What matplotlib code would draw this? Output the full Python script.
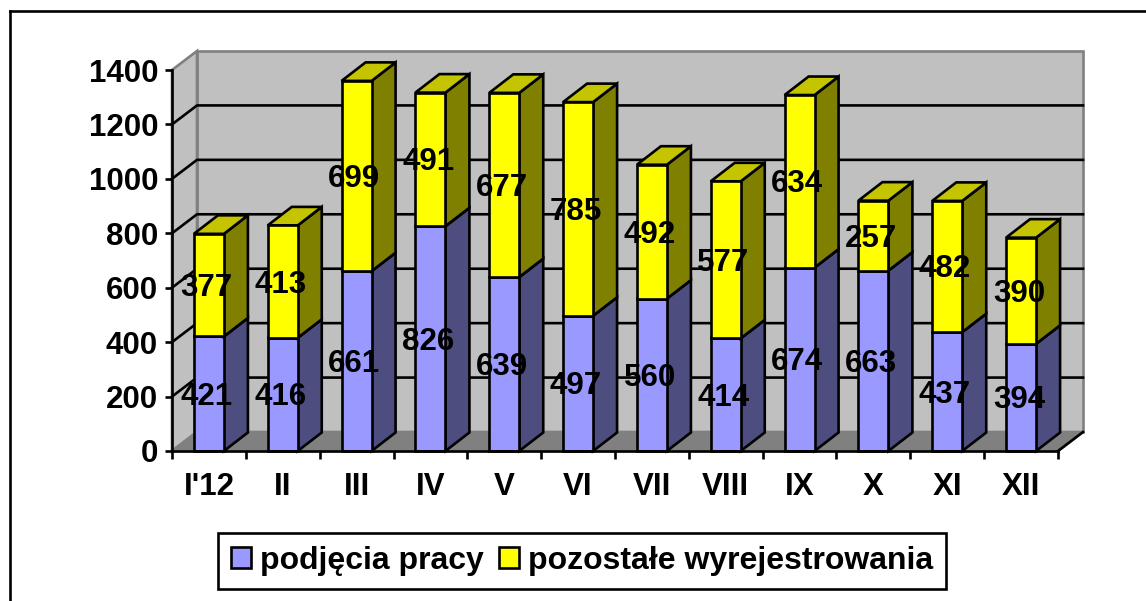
import matplotlib

matplotlib.use("Agg")
import matplotlib.pyplot as plt
from matplotlib.lines import Line2D
from matplotlib.patches import Patch

plt.rcParams["font.family"] = ["Liberation Sans", "DejaVu Sans"]
plt.rcParams["font.weight"] = "bold"

months = ["I'12", "II", "III", "IV", "V", "VI", "VII", "VIII", "IX", "X", "XI", "XII"]
podjecia = [421, 416, 661, 826, 639, 497, 560, 414, 674, 663, 437, 394]
pozostale = [377, 413, 699, 491, 677, 785, 492, 577, 634, 257, 482, 390]
y_ticks = [0, 200, 400, 600, 800, 1000, 1200, 1400]
series_names = ["podjęcia pracy", "pozostałe wyrejestrowania"]

W, H = 1146, 601
LEFT, RIGHT, TOP, BOTTOM = 172, 1058, 70, 451

# 3d look: depth of the walls and of the bars, in data units
x_unit = (RIGHT - LEFT) / 12
y_unit = (BOTTOM - TOP) / 1400
wall_dx, wall_dy = 25 / x_unit, 19 / y_unit
bar_dx, bar_dy = 24 / x_unit, 18.5 / y_unit
bar_w = 30 / x_unit
LW = 1.9

fig = plt.figure(figsize=(W / 100, H / 100), dpi=100)
ax = fig.add_axes(
    [LEFT / W, 1 - BOTTOM / H, (RIGHT - LEFT) / W, (BOTTOM - TOP) / H]
)
ax.set_xlim(-0.5, 11.5)
ax.set_ylim(0, 1400)
ax.patch.set_visible(False)

x0, x1 = -0.5, 11.5
y_top = y_ticks[-1]

# walls and floor
ax.fill(
    [x0 + wall_dx, x1 + wall_dx, x1 + wall_dx, x0 + wall_dx],
    [wall_dy, wall_dy, y_top + wall_dy, y_top + wall_dy],
    facecolor="#C0C0C0", edgecolor="#808080", lw=LW, zorder=1, clip_on=False,
)
ax.fill(
    [x0, x0 + wall_dx, x0 + wall_dx, x0],
    [0, wall_dy, y_top + wall_dy, y_top],
    facecolor="#C0C0C0", edgecolor="#808080", lw=LW, zorder=1, clip_on=False,
)
ax.fill(
    [x0, x1, x1 + wall_dx, x0 + wall_dx],
    [0, 0, wall_dy, wall_dy],
    facecolor="#808080", edgecolor="#808080", lw=LW, zorder=1, clip_on=False,
)
ax.plot([x1, x1 + wall_dx], [0, wall_dy], color="black", lw=LW, zorder=2, clip_on=False)

# grid on both walls
for v in y_ticks[1:-1]:
    ax.plot(
        [x0, x0 + wall_dx, x1 + wall_dx],
        [v, v + wall_dy, v + wall_dy],
        color="black", lw=LW, zorder=2, clip_on=False,
    )


def draw_box(x, bottom, height, front, side, top, z):
    ax.bar(
        x, height, bar_w, bottom=bottom, color=front, edgecolor="black",
        lw=LW, zorder=z + 0.2, clip_on=False,
    )
    xr = x + bar_w / 2
    xl = x - bar_w / 2
    y_hi = bottom + height
    ax.fill(
        [xr, xr + bar_dx, xr + bar_dx, xr],
        [bottom, bottom + bar_dy, y_hi + bar_dy, y_hi],
        facecolor=side, edgecolor="black", lw=LW, zorder=z, clip_on=False,
    )
    ax.fill(
        [xl, xr, xr + bar_dx, xl + bar_dx],
        [y_hi, y_hi, y_hi + bar_dy, y_hi + bar_dy],
        facecolor=top, edgecolor="black", lw=LW, zorder=z, clip_on=False,
    )


for i, (a, b) in enumerate(zip(podjecia, pozostale)):
    draw_box(i, 0, a, "#9999FF", "#4D4D80", "#C4C4FF", 3)
    draw_box(i, a, b, "#FFFF00", "#808000", "#C4C400", 4)

# labels sit a little under the middle of each segment
label_drop = 3 / y_unit
for i, (a, b) in enumerate(zip(podjecia, pozostale)):
    ax.text(i - 0.03, a / 2 - label_drop, str(a), ha="center", va="center", fontsize=22.5, zorder=10)
    ax.text(i - 0.03, a + b / 2 - label_drop, str(b), ha="center", va="center", fontsize=22.5, zorder=10)

# axes
for s in ["top", "right"]:
    ax.spines[s].set_visible(False)
for s in ["left", "bottom"]:
    ax.spines[s].set_linewidth(LW)
    ax.spines[s].set_zorder(6)

ax.set_yticks(y_ticks)
ax.set_xticks([i - 0.5 for i in range(13)])
ax.set_xticklabels([])
ax.set_xticks(range(12), months, minor=True)
ax.tick_params(axis="y", length=5, width=LW, pad=5, labelsize=22.5)
ax.tick_params(axis="x", which="major", length=5.5, width=LW)
ax.tick_params(axis="x", which="minor", length=0, pad=15, labelsize=22.5)

handles = [
    Patch(facecolor="#9999FF", edgecolor="black", lw=LW),
    Patch(facecolor="#FFFF00", edgecolor="black", lw=LW),
]
fig.legend(
    handles, series_names, ncol=2, loc="center",
    bbox_to_anchor=(((219 + 948) / 2 - 1.5) / W, 1 - 561 / H),
    fontsize=23, frameon=True, fancybox=False, edgecolor="black", framealpha=1,
    handlelength=0.63, handleheight=0.63, handletextpad=0.28, columnspacing=0.47,
    borderpad=0.42, borderaxespad=0,
).get_frame().set_linewidth(LW)

# outer chart frame
fig.add_artist(Line2D([10 / W, 10 / W], [0, 1 - 11 / H], color="black", lw=LW))
fig.add_artist(Line2D([10 / W, 1], [1 - 11 / H, 1 - 11 / H], color="black", lw=LW))

fig.savefig("out.png", dpi=100)
